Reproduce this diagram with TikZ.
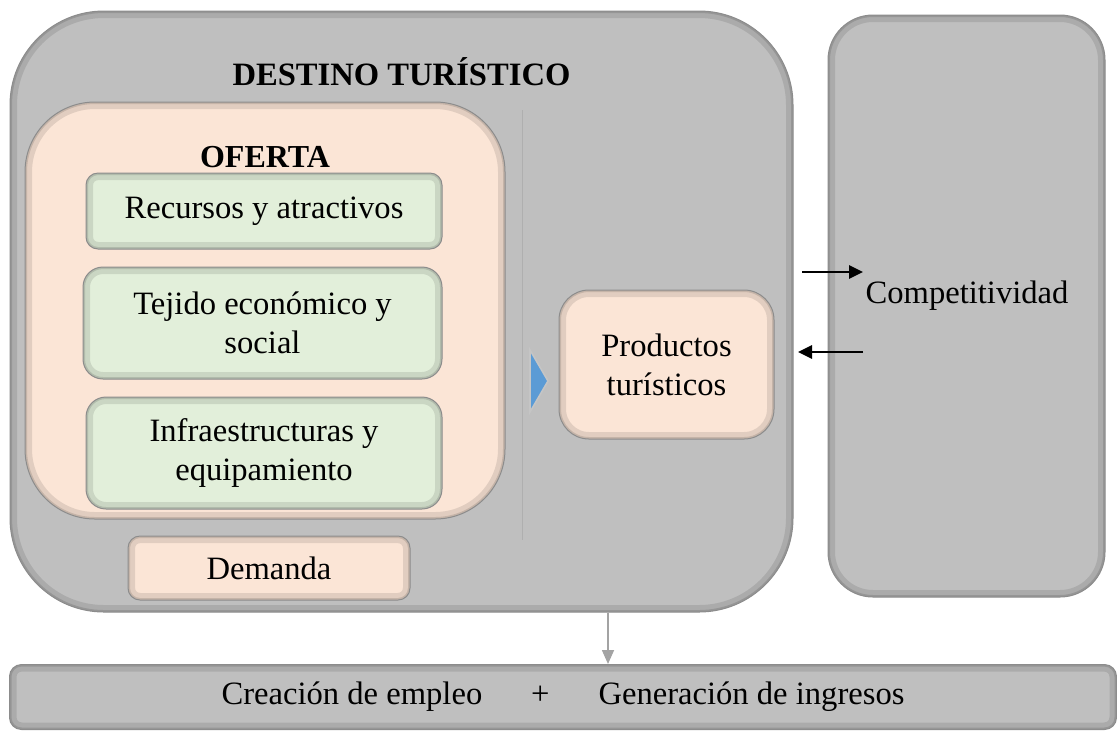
\documentclass[tikz,border=0pt]{standalone}
\usepackage{fontspec}
\setmainfont{Liberation Serif}
\usetikzlibrary{arrows.meta}
\definecolor{cajagris}{HTML}{BFBFBF}
\definecolor{bordegris}{HTML}{8C8C8C}
\definecolor{melocoton}{HTML}{FBE5D6}
\definecolor{verdeclaro}{HTML}{E2EFDA}
\definecolor{azul}{HTML}{5B9BD5}
\begin{document}
\begin{tikzpicture}[x=0.5pt,y=-0.5pt,
    every node/.style={font=\fontsize{16.3}{19.5}\selectfont},
    hundido/.style={path picture={
      \draw[black,opacity=.10,line width=7pt,rounded corners=#1] (path picture bounding box.south west) rectangle (path picture bounding box.north east);
      \draw[black,opacity=.12,line width=2pt,rounded corners=#1] (path picture bounding box.south west) rectangle (path picture bounding box.north east);}},
    caja/.style 2 args={draw=bordegris,line width=0.5pt,rounded corners=#2,inner sep=0pt,hundido=#2,
      minimum width=#1},
    gris/.style={fill=cajagris},
    peach/.style={fill=melocoton,align=center},
    verde/.style={fill=verdeclaro,align=center},
    flecha/.style={line width=1.4pt,-{Triangle[length=7pt,width=6.5pt]}},
    flechagris/.style={draw=bordegris!80,line width=0.8pt,-{Triangle[length=7pt,width=6pt]}}]
    \useasboundingbox (0,0) rectangle (1117,730);
    \node[caja={391.5pt}{47pt},gris,minimum height=300.5pt] (destino) at (401.5,311.5) {};
    \node[caja={138.5pt}{22.5pt},gris,minimum height=291pt] (compet) at (966.5,306) {};
    \node[caja={553.5pt}{6pt},gris,minimum height=32.5pt] (barra) at (563,697) {Creación de empleo\hspace{1.5em}+\hspace{1.5em}Generación de ingresos};
    \node[font=\fontsize{16.3}{19.5}\selectfont\bfseries] (titulo) at (401.5,72) {DESTINO TURÍSTICO};
    \node[caja={240pt}{35pt},peach,minimum height=208.5pt] (oferta) at (265,310.5) {};
    \node[font=\fontsize{16}{19.5}\selectfont\bfseries] (ofertatit) at (265,157) {OFERTA};
    \node[caja={178pt}{6pt},verde,minimum height=38pt] (recursos) at (264,211) {Recursos y atractivos};
    \node[caja={179.5pt}{10pt},verde,minimum height=56pt] (tejido) at (262.5,323) {Tejido económico y\\social};
    \node[caja={178pt}{10pt},verde,minimum height=56pt] (infra) at (264,453) {Infraestructuras y\\equipamiento};
    \node[caja={141pt}{6pt},peach,minimum height=32pt] (demanda) at (269,568) {Demanda};
    \node[caja={107.5pt}{15pt},peach,minimum height=74.5pt] (productos) at (666.5,364.5) {Productos\\turísticos};
    \node (compettxt) at (967,296) {Competitividad};
    \draw[color=bordegris!70,line width=0.4pt] (522,110) -- (522,540);
    \draw[fill=azul,draw=bordegris!50,line width=0.8pt] (530,350) -- (548,381) -- (530,412) -- cycle;
    \coordinate (ida1) at (802,272);
    \coordinate (ida2) at (863,272);
    \coordinate (vuelta1) at (863,352);
    \coordinate (vuelta2) at (798,352);
    \draw[flecha] (ida1) -- (ida2);
    \draw[flecha] (vuelta1) -- (vuelta2);
    \draw[flechagris] (608,0 |- destino.south) -- (608,0 |- barra.north);
\end{tikzpicture}
\end{document}
